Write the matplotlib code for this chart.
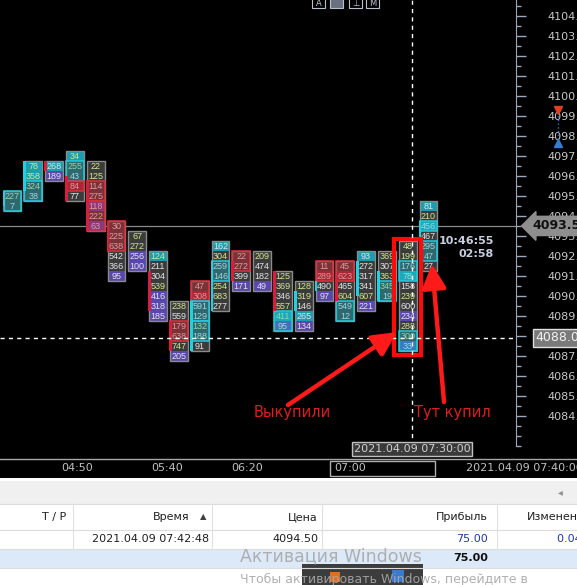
import numpy as np
import matplotlib
matplotlib.use('Agg')
import matplotlib.pyplot as plt
from matplotlib.patches import Rectangle
from matplotlib.transforms import blended_transform_factory

# footprint: price of top cell, volumes top->bottom, cell background / text codes
tops = [4095.0, 4096.5, 4096.5, 4097.0, 4096.5, 4093.5, 4093.0, 4092.0, 4089.5, 4090.5,
        4092.5, 4092.0, 4092.0, 4091.0, 4090.5, 4091.5, 4091.5, 4092.0, 4092.0, 4092.5, 4094.5]
vols = [
    [227, 7],
    [78, 358, 324, 38],
    [268, 189],
    [34, 255, 43, 84, 77],
    [22, 125, 114, 275, 118, 222, 63],
    [30, 225, 638, 542, 366, 95],
    [67, 272, 256, 100],
    [124, 211, 304, 539, 416, 318, 185],
    [238, 559, 179, 638, 747, 205],
    [47, 308, 591, 129, 132, 188, 91],
    [162, 304, 259, 146, 254, 683, 277],
    [22, 272, 399, 171],
    [209, 474, 182, 49],
    [125, 369, 346, 557, 411, 95],
    [128, 319, 146, 265, 134],
    [11, 289, 490, 97],
    [45, 623, 465, 604, 549, 12],
    [93, 272, 317, 341, 607, 221],
    [369, 307, 363, 345, 19],
    [48, 199, 176, 78, 158, 239, 600, 234, 288, 300, 33],
    [81, 210, 456, 467, 295, 47, 27],
]
cell_bg = ['gg', 'ttgg', 'tp', 'tggrg', 'ggggpgp', 'gggggp', 'ggpp', 'tgggppp', 'gggggp',
           'grggggg', 'tgggggg', 'gggp', 'gggp', 'ggggtp', 'gggtp', 'grgp', 'grgggg',
           'tggggp', 'ggggg', 'gggtgggpggb', 'tgtgggg']
cell_fg = ['yw', 'yyyw', 'ww', 'yywww', 'yywwwww', 'wwwwww', 'yyww', 'ywwywww', 'ywwwyw',
           'wwwwyww', 'wywwyyw', 'wwww', 'ywww', 'yywyyw', 'yywww', 'wwww', 'wwwyww',
           'wwwwyw', 'ywyyw', 'yywwwywwyyw', 'wywwwww']
# candle bodies (open, close)
bodies = [(4094.5, 4095.25), (4095.25, 4096.75), (4096.75, 4096.25), (4096.0, 4094.75),
          (4095.75, 4093.25), (4093.75, 4092.25), None, (4091.25, 4089.25),
          (4088.75, 4087.25), (4087.25, 4089.75), (4089.25, 4091.75), (4091.75, 4090.75),
          None, (4091.25, 4089.25), (4089.25, 4090.25), (4090.25, 4090.75),
          (4091.0, 4089.75), (4090.0, 4091.75), (4089.75, 4091.25), None, (4092.0, 4093.75)]
# imbalance zones: column, upper row price, lower row price, kind
zones = [(0, 4095.0, 4094.5, 'c'), (1, 4095.5, 4095.0, 'c'), (3, 4096.5, 4096.0, 'c'),
         (3, 4095.5, 4095.5, 'r'), (4, 4095.5, 4095.0, 'r'), (4, 4094.5, 4093.5, 'r'),
         (5, 4093.5, 4092.5, 'r'), (8, 4088.5, 4088.0, 'r'), (9, 4090.5, 4090.0, 'r'),
         (9, 4089.5, 4089.0, 'c'), (9, 4088.5, 4088.0, 'c'), (10, 4091.5, 4091.0, 'c'),
         (11, 4092.0, 4091.5, 'r'), (13, 4089.0, 4088.5, 'c'), (15, 4091.5, 4091.0, 'r'),
         (16, 4091.5, 4091.0, 'r'), (16, 4089.5, 4089.0, 'c'), (18, 4090.5, 4090.0, 'c'),
         (19, 4091.5, 4091.0, 'c'), (19, 4088.0, 4087.5, 'c'), (20, 4093.5, 4093.5, 'c'),
         (20, 4092.5, 4092.0, 'c')]

last_price = 4093.5
cross_price = 4087.9
cross_col = 19.2
marked_col = 19

time_labels = ['04:50', '05:40', '06:20']
time_pos = [77, 167, 247]

bg_col = {'g': '#3b3b3b', 't': '#1a9fb0', 'p': '#5a47ae', 'r': '#8a2636', 'b': '#3b5bc0'}
fg_col = {'y': '#d0e68e', 'w': '#e4e4e4'}

fig = plt.figure(figsize=(5.77, 5.85), dpi=100, facecolor='black')
ax = fig.add_axes([0, (585 - 446) / 585, 516 / 577, 446 / 585], facecolor='black')
ax.set_xlim(-12.5 / 20.8, (516 - 12.5) / 20.8)
ax.set_ylim(4093.5 - (446 - 227) / 20.1, 4093.5 + 227 / 20.1)
for s in ['top', 'left', 'bottom']:
    ax.spines[s].set_visible(False)
ax.spines['right'].set_color('#9aa8bc')
ax.xaxis.set_visible(False)
ax.yaxis.tick_right()
ax.set_yticks(np.arange(4084, 4105))
ax.set_yticklabels(['%.2f' % v for v in np.arange(4084, 4105)])
ax.set_yticks(np.arange(4082.5, 4105, 0.5), minor=True)
ax.tick_params(axis='y', which='major', length=7.5, width=1, color='#9aa8bc',
               labelcolor='#c8c8c8', labelsize=8, pad=15)
ax.tick_params(axis='y', which='minor', length=3.5, width=1, color='#9aa8bc')

hw = 0.43
for i, (top, vs, bgs, fgs) in enumerate(zip(tops, vols, cell_bg, cell_fg)):
    n = len(vs)
    for k, v in enumerate(vs):
        p = top - 0.5 * k
        ax.add_patch(Rectangle((i - hw, p - 0.25), 2 * hw, 0.5, fc=bg_col[bgs[k]], ec='none', zorder=2))
        ax.text(i, p, str(v), color=fg_col[fgs[k]], ha='center', va='center_baseline',
                fontsize=6.5, family='Liberation Sans', zorder=4)
    ax.add_patch(Rectangle((i - hw, top - 0.5 * n + 0.25), 2 * hw, 0.5 * n,
                           fc='none', ec='#8a8a8a', lw=1, zorder=5))

for c, hi, lo, kind in zones:
    ec = '#24c8d8' if kind == 'c' else '#d83040'
    fc = (0.1, 0.75, 0.82, 0.35) if kind == 'c' else (0.85, 0.15, 0.2, 0.4)
    ax.add_patch(Rectangle((c - hw, lo - 0.25), 2 * hw, hi - lo + 0.5, fc=fc, ec=ec, lw=1.1, zorder=6))

for i, b in enumerate(bodies):
    if b is None:
        continue
    o, cl = b
    col = '#1ed2e2' if cl > o else '#d81e3c'
    ax.add_patch(Rectangle((i - hw - 0.05, min(o, cl)), 0.14, abs(cl - o), fc=col, ec='none', zorder=7))

# price line and crosshair
ax.axhline(last_price, color='#8a8a8a', lw=0.9, zorder=1)
ax.axhline(cross_price, color='white', lw=1, ls=(0, (3, 3)), zorder=9)
ax.axvline(cross_col, color='white', lw=1, ls=(0, (3, 3)), zorder=9)

# red box around the marked column
n19 = len(vols[marked_col])
ax.add_patch(Rectangle((marked_col - 0.66, tops[marked_col] - 0.5 * n19 + 0.03), 1.3,
                       0.5 * n19 + 0.3, fc='none', ec='#ff0a0a', lw=3, zorder=8))

tr = blended_transform_factory(ax.transAxes, ax.transData)
ax.text(1 + 16 / 516, last_price, '4093.50', transform=tr, ha='left', va='center',
        fontsize=9, fontweight='bold', color='#111111', clip_on=False, zorder=10,
        bbox=dict(boxstyle='larrow,pad=0.25', fc='#8e8e8e', ec='#8e8e8e'))
ax.text(1 + 19 / 516, cross_price, '%.2f' % (round(cross_price * 4) / 4), transform=tr,
        ha='left', va='center', fontsize=9, color='#f2f2f2', clip_on=False, zorder=10,
        bbox=dict(boxstyle='square,pad=0.2', fc='#7a7a7a', ec='#e0e0e0', lw=1))

# overlay in pixel coordinates
ov = fig.add_axes([0, 0, 1, 1], facecolor='none')
ov.set_xlim(0, 577)
ov.set_ylim(585, 0)
ov.axis('off')

# top buttons
for x0, lab in zip([312, 330, 349, 366], ['A', '', '⊥', 'M']):
    ov.add_patch(Rectangle((x0, -3), 13, 11, fc='#6a7080' if lab == '' else 'black',
                           ec='#b8c0d0', lw=0.8))
    ov.text(x0 + 6.5, 3, lab, color='#c0c8d8', fontsize=6, ha='center', va='center')

# trade markers on price scale
ov.plot([558, 558], [112, 141], color='#3070d0', lw=1, ls=':')
ov.plot([558], [110], marker='v', color='#e04020', ms=6)
ov.plot([558], [143], marker='^', color='#2f7fd8', ms=6)

ov.text(494, 241, '10:46:55', color='#c8d0e0', fontsize=8, fontweight='bold', ha='right', va='center')
ov.text(494, 254, '02:58', color='#c8d0e0', fontsize=8, fontweight='bold', ha='right', va='center')

# arrows
ov.annotate('', xy=(397, 332), xytext=(288, 405),
            arrowprops=dict(arrowstyle='-|>,head_length=0.8,head_width=0.4', color='#ff1a1a',
                            lw=3.2, shrinkA=0, shrinkB=0, mutation_scale=18))
ov.annotate('', xy=(432, 264), xytext=(444, 402),
            arrowprops=dict(arrowstyle='-|>,head_length=0.8,head_width=0.4', color='#ff1a1a',
                            lw=3.2, shrinkA=0, shrinkB=0, mutation_scale=18))
ov.text(292, 413, 'Выкупили', color='#e01c1c', fontsize=10.5, ha='center', va='center')
ov.text(452, 413, 'Тут купил', color='#e01c1c', fontsize=10.5, ha='center', va='center')

# crosshair time label
ov.text(412, 449, '2021.04.09 07:30:00', color='#d0d0d0', fontsize=8, ha='center', va='center',
        bbox=dict(boxstyle='square,pad=0.15', fc='#3a3a3a', ec='#c0c0c0', lw=1))

# time axis strip
ov.plot([0, 577], [459, 459], color='#a8a8a8', lw=1)
for lab, x in zip(time_labels, time_pos):
    ov.text(x, 468, lab, color='#c0c0c0', fontsize=8, ha='center', va='center')
ov.add_patch(Rectangle((330, 461), 105, 15, fc='none', ec='#b0b0b0', lw=1))
ov.text(334, 468, '07:00', color='#c0c0c0', fontsize=8, ha='left', va='center')
ov.text(466, 468, '2021.04.09 07:40:00', color='#c0c0c0', fontsize=8, ha='left', va='center')

# bottom panel
ov.add_patch(Rectangle((0, 478), 577, 3, fc='white', ec='none'))
ov.add_patch(Rectangle((0, 481), 577, 23, fc='#f0f0f0', ec='none'))
ov.text(560, 492, '◂', color='#909090', fontsize=7, ha='center', va='center')
ov.add_patch(Rectangle((0, 504), 577, 81, fc='white', ec='none'))
ov.add_patch(Rectangle((0, 549), 577, 19, fc='#dce9f8', ec='none'))
for y in [504, 530, 549, 568]:
    ov.plot([0, 577], [y, y], color='#dcdcdc', lw=0.8)
for x in [73, 212, 322, 497]:
    ov.plot([x, x], [504, 549], color='#e0e0e0', lw=0.8)

hdr = dict(color='#202020', fontsize=8, va='center')
ov.text(66, 517, 'T / P', ha='right', **hdr)
ov.text(190, 517, 'Время', ha='right', **hdr)
ov.text(203, 517, '▲', ha='center', color='#404040', fontsize=6, va='center')
ov.text(318, 517, 'Цена', ha='right', **hdr)
ov.text(488, 517, 'Прибыль', ha='right', **hdr)
ov.text(527, 517, 'Изменение', ha='left', **hdr)
ov.text(209, 539, '2021.04.09 07:42:48', ha='right', **hdr)
ov.text(318, 539, '4094.50', ha='right', **hdr)
ov.text(488, 539, '75.00', ha='right', color='#2036b0', fontsize=8, va='center')
ov.text(557, 539, '0.04 %', ha='left', color='#2036b0', fontsize=8, va='center')
ov.text(488, 558, '75.00', ha='right', color='#101010', fontsize=8, fontweight='bold', va='center')

# windows watermark and popup
ov.add_patch(Rectangle((302, 564), 121, 21, fc='#3c3c3c', ec='none'))
ov.add_patch(Rectangle((330, 572), 10, 10, fc='#e07020', ec='none'))
ov.add_patch(Rectangle((392, 570), 12, 12, fc='#3a7ad0', ec='none'))
ov.text(240, 556, 'Активация Windows', color='#a8a8a8', fontsize=12.5, ha='left', va='center', alpha=0.9)
ov.text(240, 579, 'Чтобы активировать Windows, перейдите в', color='#a8a8a8', fontsize=9,
        ha='left', va='center', alpha=0.9)

fig.savefig('out.png', dpi=100, facecolor='black')
